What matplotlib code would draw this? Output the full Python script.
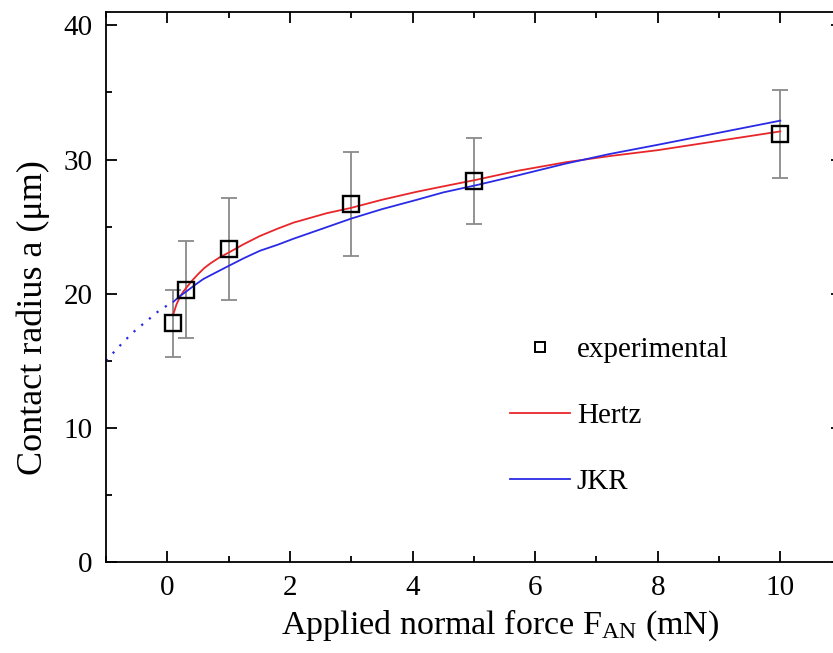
import matplotlib
matplotlib.use('Agg')
import matplotlib.pyplot as plt
from matplotlib.ticker import MultipleLocator

# experimental points (force in mN, contact radius in um)
force = [0.1, 0.3, 1, 3, 5, 10]
radius = [17.8, 20.3, 23.3, 26.7, 28.4, 31.9]
radius_err = [2.5, 3.6, 3.8, 3.9, 3.2, 3.3]

# model curves
hertz_x = [0.1, 0.15, 0.2, 0.26, 0.32, 0.4, 0.5, 0.6, 0.7, 0.85, 1.0, 1.25, 1.51, 1.8, 2.06, 2.6,
           3.0, 3.5, 4.07, 4.5, 5.05, 5.7, 6.5, 7.2, 8.0, 9.0, 10.0]
hertz_y = [18.5, 19.2, 19.7, 20.15, 20.5, 20.95, 21.45, 21.9, 22.25, 22.7, 23.06, 23.7, 24.3, 24.85, 25.3, 26.0,
           26.4, 27.0, 27.6, 28.0, 28.5, 29.15, 29.8, 30.25, 30.7, 31.4, 32.1]
jkr_x = [0.1, 0.2, 0.32, 0.45, 0.59, 0.8, 1.0, 1.25, 1.51, 1.8, 2.06, 2.6, 3.0, 3.5, 4.07, 4.5, 5.05, 5.7,
         6.5, 7.2, 8.0, 9.0, 10.0]
jkr_y = [19.4, 19.8, 20.2, 20.65, 21.1, 21.6, 22.07, 22.65, 23.2, 23.65, 24.1, 24.96, 25.6, 26.3, 27.0, 27.55,
         28.1, 28.8, 29.7, 30.4, 31.1, 32.0, 32.9]
# JKR extended to negative force (dotted)
jkr_ext_x = [-1.0, -0.81, -0.69, -0.56, -0.43, -0.30, -0.16, -0.03, 0.1]
jkr_ext_y = [15.0, 15.95, 16.52, 17.11, 17.61, 18.1, 18.64, 19.04, 19.4]

plt.rcParams['font.family'] = ['Liberation Serif', 'DejaVu Serif']
plt.rcParams['mathtext.fontset'] = 'custom'
plt.rcParams['mathtext.rm'] = 'Liberation Serif'
plt.rcParams['mathtext.it'] = 'Liberation Serif:italic'

fig = plt.figure(figsize=(8.33, 6.53), dpi=100)
ax = fig.add_axes([106 / 833, 91 / 653, 735.6 / 833, 550 / 653])

red = '#e8262a'
blue = '#2a2ae6'

ax.plot(jkr_ext_x, jkr_ext_y, color=blue, lw=1.6, linestyle=(0, (1, 3.5)))
ax.errorbar(force, radius, yerr=radius_err, fmt='none', ecolor='#8a8a8a',
            elinewidth=1.3, capsize=6, capthick=1.3, zorder=2)
h_hertz, = ax.plot(hertz_x, hertz_y, color=red, lw=1.3, zorder=3)
h_jkr, = ax.plot(jkr_x, jkr_y, color=blue, lw=1.3, zorder=3)
ax.plot(force, radius, 's', ms=11.5, mfc='none', mec='black', mew=1.7, zorder=4)

leg_exp = plt.Line2D([], [], marker='s', ms=7.5, mfc='none', mec='black', mew=1.4, ls='none')
ax.legend([leg_exp, h_hertz, h_jkr], ['experimental', 'Hertz', 'JKR'],
          loc='upper left', bbox_to_anchor=(0.549, 0.4095), frameon=False,
          fontsize=21, handlelength=2.05, handletextpad=0.25, labelspacing=1.36,
          borderpad=0, borderaxespad=0)

ax.set_xlim(-1, 11)
ax.set_ylim(0, 41)
ax.xaxis.set_major_locator(MultipleLocator(2))
ax.xaxis.set_minor_locator(MultipleLocator(1))
ax.yaxis.set_major_locator(MultipleLocator(10))
ax.yaxis.set_minor_locator(MultipleLocator(5))
ax.tick_params(which='both', direction='in', top=True, right=True, width=1.3,
               labelsize=21, pad=9.5)
ax.tick_params(which='major', length=8)
ax.tick_params(which='minor', length=4.5)
for s in ax.spines.values():
    s.set_linewidth(1.3)

ax.set_xlabel(r'Applied normal force F$_{\rm AN}$ (mN)', fontsize=24.5)
ax.set_ylabel('Contact radius a (\u03bcm)', fontsize=26)
ax.xaxis.set_label_coords(0.536, -0.082)
ax.yaxis.set_label_coords(-0.076, 0.4436)

fig.savefig('out.png', dpi=100)
